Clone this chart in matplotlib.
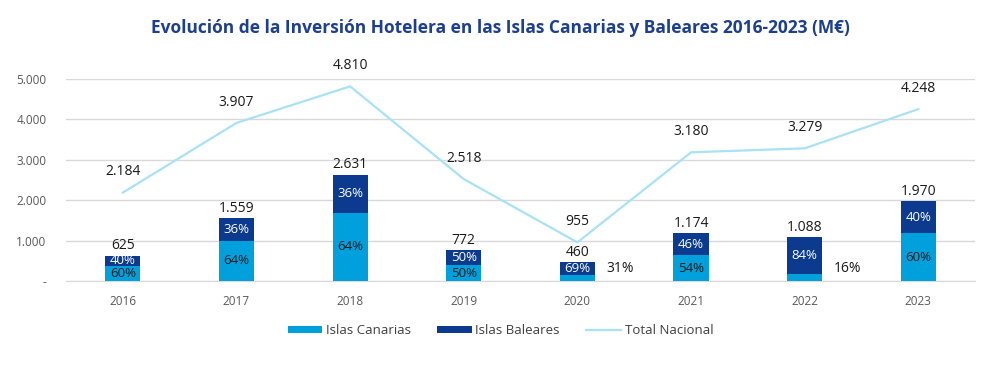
import matplotlib
matplotlib.use("Agg")
import matplotlib.pyplot as plt
import numpy as np

years = ["2016", "2017", "2018", "2019", "2020", "2021", "2022", "2023"]
total_islas = [625, 1559, 2631, 772, 460, 1174, 1088, 1970]
pct_canarias = [60, 64, 64, 50, 31, 54, 16, 60]
pct_baleares = [40, 36, 36, 50, 69, 46, 84, 40]
total_nacional = [2184, 3907, 4810, 2518, 955, 3180, 3279, 4248]
inside_canarias_label = [True, True, True, True, False, True, False, True]

C_CAN = "#00A0DC"
C_BAL = "#0B3A8E"
C_LINE = "#A8E2F4"
C_TITLE = "#1D3F8F"

plt.rcParams['font.family'] = ['Open Sans', 'DejaVu Sans']

fig = plt.figure(figsize=(9.87, 3.76), dpi=100)
ax = fig.add_axes([0.0669, 0.2527, 0.9211, 0.538])

x = np.arange(len(years))
can = np.array(total_islas) * np.array(pct_canarias) / 100.0
bal = np.array(total_islas) - can
w = 0.31
b1 = ax.bar(x, can, width=w, color=C_CAN, label="Islas Canarias", zorder=3)
b2 = ax.bar(x, bal, width=w, bottom=can, color=C_BAL, label="Islas Baleares", zorder=3)
l1, = ax.plot(x, total_nacional, color=C_LINE, lw=1.6, label="Total Nacional", zorder=4)

def fmt(v):
    return f"{v:,}".replace(",", ".")

for i in range(len(years)):
    ax.annotate(fmt(total_islas[i]), (x[i], total_islas[i]), xytext=(0, 7),
                textcoords="offset points", ha="center", va="center",
                fontsize=10, color="#1a1a1a", zorder=6, annotation_clip=False)
    ax.annotate(fmt(total_nacional[i]), (x[i], total_nacional[i]), xytext=(0, 15),
                textcoords="offset points", ha="center", va="center",
                fontsize=10, color="#1a1a1a", zorder=6, annotation_clip=False)
    ax.text(x[i], can[i] + bal[i] / 2, f"{pct_baleares[i]}%", ha="center", va="center",
            fontsize=9.5, color="white", zorder=6)
    if inside_canarias_label[i]:
        ax.text(x[i], can[i] / 2, f"{pct_canarias[i]}%", ha="center", va="center",
                fontsize=9.5, color="#1a1a1a", zorder=6)
    else:
        ax.text(x[i] + 0.38, 300, f"{pct_canarias[i]}%", ha="center", va="center",
                fontsize=10, color="#1a1a1a", zorder=6)

ax.set_xlim(-0.5, 7.5)
ax.set_ylim(0, 5000)
ax.set_yticks([0, 1000, 2000, 3000, 4000, 5000])
ax.set_yticklabels(["-", "1.000", "2.000", "3.000", "4.000", "5.000"])
ax.set_xticks(x)
ax.set_xticklabels(years)
ax.tick_params(axis="both", length=0, labelsize=8.5, labelcolor="#595959")
ax.tick_params(axis="x", pad=10)
ax.tick_params(axis="y", pad=14)
ax.grid(axis="y", color="#D9D9D9", lw=1, zorder=0)
for s in ["top", "right", "left"]:
    ax.spines[s].set_visible(False)
ax.spines["bottom"].set_color("#D9D9D9")

fig.text(0.507, 0.925, "Evolución de la Inversión Hotelera en las Islas Canarias y Baleares 2016-2023 (M€)",
         ha="center", va="center", fontsize=12.5, fontweight="bold", color=C_TITLE,
         fontstretch="condensed")

fig.legend([b1, b2, l1], ["Islas Canarias", "Islas Baleares", "Total Nacional"],
           loc="center", bbox_to_anchor=(0.507, 0.12), ncol=3, frameon=False,
           fontsize=9.5, handlelength=2.6, handleheight=0.5, columnspacing=2.0,
           labelcolor="#404040", handletextpad=0.3)

fig.savefig("out.png", dpi=100)
